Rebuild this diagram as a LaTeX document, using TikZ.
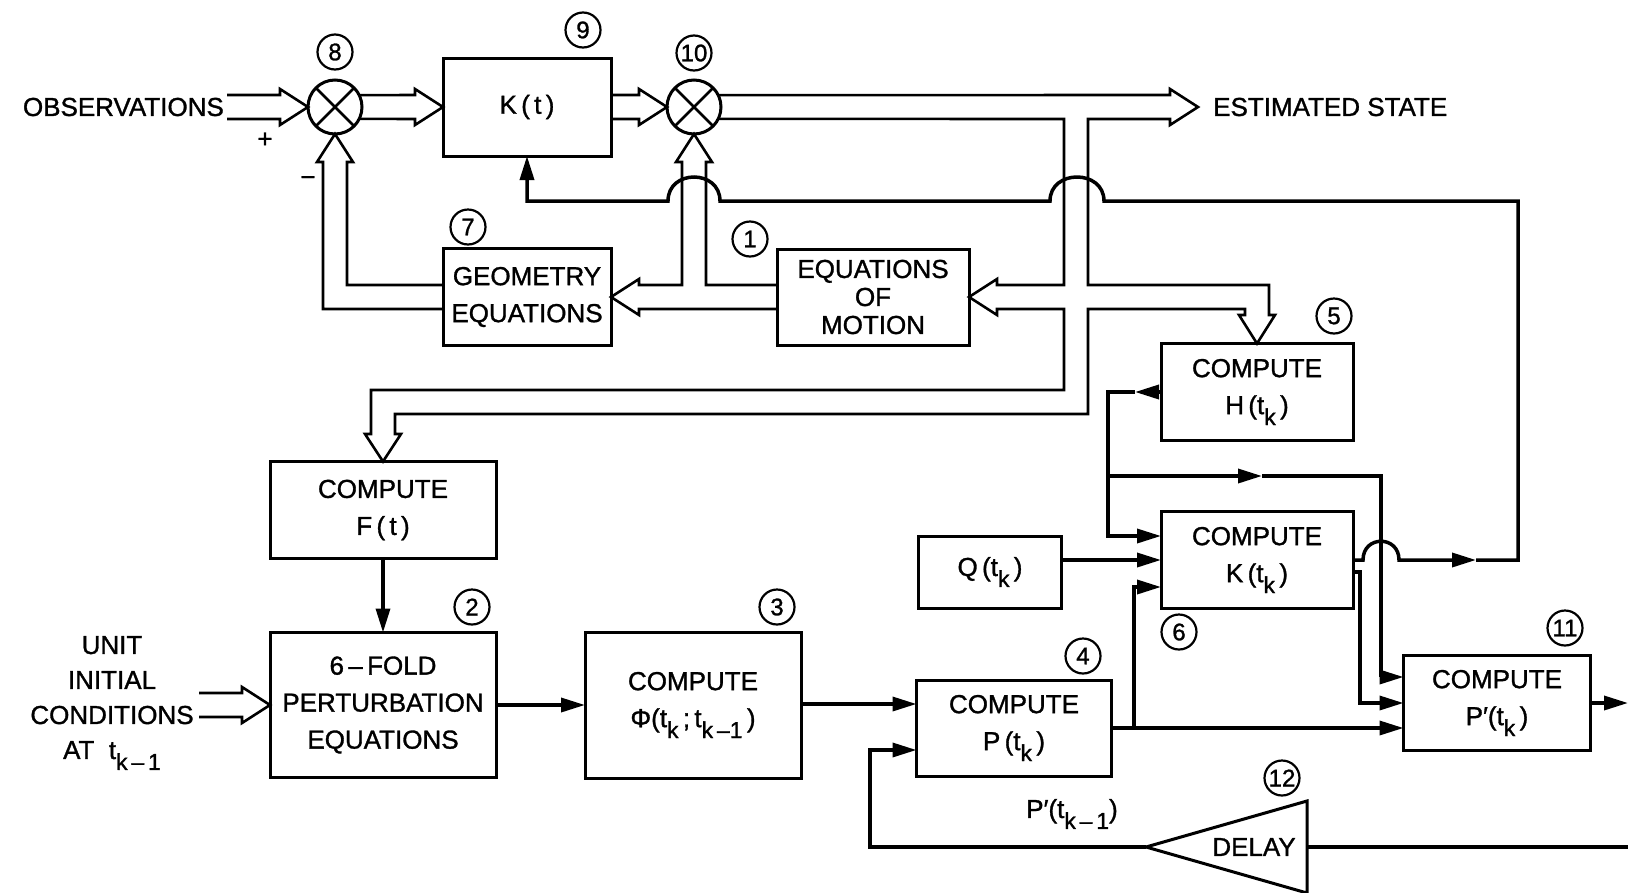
\documentclass[tikz,border=0pt]{standalone}
\usepackage{fontspec}
\setmainfont{Liberation Sans}[UprightFeatures={FakeBold=1.2}]
\usepackage{tikz}
\usetikzlibrary{arrows.meta, calc}

% lowered subscript, as lettered in the drawing
\newcommand{\tsub}[1]{\raisebox{-0.42em}{\fontsize{23}{23}\selectfont #1}}

\begin{document}
\begin{tikzpicture}[
  x=1pt, y=-1pt,
  font=\fontsize{26}{37}\selectfont,
  block/.style={rectangle, draw, line width=3pt, align=center,
    inner sep=0pt, outer sep=0pt},
  sumjunc/.style={circle, draw, line width=3pt, minimum size=54pt,
    inner sep=0pt, outer sep=0pt},
  tag/.style={circle, draw, line width=2.2pt, minimum size=35pt,
    inner sep=0pt, font=\fontsize{24}{24}\selectfont},
  txt/.style={align=center, inner sep=0pt},
  arrow/.style={-{Triangle[length=24pt, width=14pt]}, line width=3.5pt},
  wire/.style={line width=3.5pt},
  pipe/.style={line width=2.6pt, line join=miter}
]
\useasboundingbox (0,0) rectangle (1628,892);

% summing junctions
\node (sumA) [sumjunc] at (335,107) {};
\node (sumB) [sumjunc] at (694,107) {};
\draw[line width=2.5pt] (sumA.45) -- (sumA.225) (sumA.135) -- (sumA.315);
\draw[line width=2.5pt] (sumB.45) -- (sumB.225) (sumB.135) -- (sumB.315);

% blocks
\node (kt)   [block, minimum width=168pt, minimum height=98pt]  at (527,107) {K\,(\,t\,)};
\node (geom) [block, minimum width=168pt, minimum height=97pt]  at (527,297) {GEOMETRY\\EQUATIONS};
\node (eom)  [block, minimum width=192pt, minimum height=96pt,
              font=\fontsize{26}{28}\selectfont]                at (873,297) {EQUATIONS\\OF\\MOTION};
\node (cf)   [block, minimum width=226pt, minimum height=97pt]  at (383,510) {COMPUTE\\F\,(\,t\,)};
\node (pert) [block, minimum width=226pt, minimum height=145pt] at (383,705) {6\,–\,FOLD\\PERTURBATION\\EQUATIONS};
\node (cphi) [block, minimum width=216pt, minimum height=146pt] at (693,705) {COMPUTE\\Φ(t\tsub{k}\,;\,t\tsub{k\,–1}\,)};
\node (cp)   [block, minimum width=195pt, minimum height=96pt]  at (1014,728) {COMPUTE\\P\,(t\tsub{k}\,)};
\node (cq)   [block, minimum width=143pt, minimum height=72pt]  at (990,572) {Q\,(t\tsub{k}\,)};
\node (ch)   [block, minimum width=192pt, minimum height=97pt]  at (1257,392) {COMPUTE\\H\,(t\tsub{k}\,)};
\node (ck)   [block, minimum width=192pt, minimum height=97pt]  at (1257,560) {COMPUTE\\K\,(t\tsub{k}\,)};
\node (cpp)  [block, minimum width=187pt, minimum height=95pt]  at (1497,703) {COMPUTE\\P′(t\tsub{k}\,)};

% delay
\coordinate (dtip) at (1146,847);
\coordinate (dbase) at (1307,847);
\draw[line width=3pt] (dtip) -- (1307,801) -- (1307,893) -- cycle;
\node (delay) [txt] at (1254,847) {DELAY};

% texts
\node (obs)   [txt, anchor=east] at (224,107)  {OBSERVATIONS};
\node (est)   [txt, anchor=west] at (1213,107) {ESTIMATED STATE};
\node (uic)   [txt, font=\fontsize{26}{35}\selectfont] at (112,703)
  {UNIT\\INITIAL\\CONDITIONS\\AT\ \ t\tsub{k\,–\,1}};
\node (pprev) [txt] at (1072,814) {P′(t\tsub{k\,–\,1})};
\node (plus)  [txt] at (265,140) {+};
\node (minus) [txt] at (308,181) {−};

% tags
\node (t8)  [tag] at (335,52)   {8};
\node (t9)  [tag] at (583,30)   {9};
\node (t10) [tag] at (694,53)   {10};
\node (t7)  [tag] at (468,227)  {7};
\node (t1)  [tag] at (750,239)  {1};
\node (t5)  [tag] at (1334,316) {5};
\node (t2)  [tag] at (472,607)  {2};
\node (t3)  [tag] at (777,607)  {3};
\node (t4)  [tag] at (1083,656) {4};
\node (t6)  [tag] at (1179,632) {6};
\node (t11) [tag] at (1565,628) {11};
\node (t12) [tag] at (1282,778) {12};

% hollow (vector) arrows
\coordinate (uicin) at (199,705);
\coordinate (esttip) at (1198,107);
\draw[pipe] ($(obs.east)+(3,-12)$) -- (280,95) -- (280,89) -- (sumA.west)
  -- (280,125) -- (280,119) -- ($(obs.east)+(3,12)$);
\draw[pipe] (sumA.26) -- (415,95) -- (415,89) -- (kt.west)
  -- (415,125) -- (415,119) -- (sumA.-26);
\draw[pipe] ($(kt.east)+(0,-12)$) -- (639,95) -- (639,89) -- (sumB.west)
  -- (639,125) -- (639,119) -- ($(kt.east)+(0,12)$);
\draw[pipe] ($(uicin)+(0,-12)$) -- (242,693) -- (242,687) -- (pert.west)
  -- (242,723) -- (242,717) -- ($(uicin)+(0,12)$);
\draw[pipe] ($(geom.west)+(0,-12)$) -- (347,285) -- (347,162) -- (353,162)
  -- (sumA.south) -- (317,162) -- (323,162) -- (323,309) -- ($(geom.west)+(0,12)$);
\draw[pipe] ($(eom.west)+(0,-12)$) -- (706,285) -- (706,162) -- (712,162)
  -- (sumB.south) -- (676,162) -- (682,162) -- (682,285) -- (639,285)
  -- (639,279) -- (geom.east) -- (639,315) -- (639,309) -- ($(eom.west)+(0,12)$);
\draw[pipe] (sumB.-26) -- (1064,119) -- (1064,285) -- (997,285) -- (997,279)
  -- (eom.east) -- (997,315) -- (997,309) -- (1064,309) -- (1064,390)
  -- (371,390) -- (371,434) -- (365,434) -- (cf.north) -- (401,434)
  -- (395,434) -- (395,414) -- (1088,414) -- (1088,309) -- (1245,309)
  -- (1245,315) -- (1239,315) -- (ch.north) -- (1275,315) -- (1269,315)
  -- (1269,285) -- (1088,285) -- (1088,119) -- (1170,119) -- (1170,125)
  -- (esttip) -- (1170,89) -- (1170,95) -- (sumB.26);

% gain feedback with crossovers
\draw[arrow] (ck.east) -- (1363,560)
  .. controls (1363,535) and (1399,535) .. (1399,560) -- (1476,560);
\draw[arrow] (1476,560) -- (1518,560) -- (1518,201) -- (1104,201)
  .. controls (1104,169) and (1050,169) .. (1050,201) -- (720,201)
  .. controls (720,169) and (668,169) .. (668,201) -- (kt.south |- 0,201)
  -- (kt.south);

% H bus
\draw[arrow] (ch.west) -- ($(ch.west)+(-26,0)$);
\draw[arrow] ($(ch.west)+(-26,0)$) -- (1108,392) -- (1108,536) -- (ck.west |- 0,536);
\draw[arrow] (1108,476) -- (1262,476);
\draw[arrow] (1262,476) -- (1381,476) -- (1381,677) -- (cpp.west |- 0,677);

\draw[arrow] (cq.east |- ck.west) -- (ck.west);
\draw[arrow] (cp.east) -- (cpp.west |- cp.east);
\draw[arrow] (1134,728) -- (1134,587) -- (ck.west |- 0,587);
\draw[arrow] (ck.east |- 0,572) -- (1360,572) -- (1360,703) -- (cpp.west);

\coordinate (outR) at (1628,703);
\draw[arrow] (cpp.east) -- (outR);

\coordinate (inR) at (1628,847);
\draw[wire] (inR) -- (dbase);
\draw[arrow] (dtip) -- (870,847) -- (870,750) -- (cp.west |- 0,750);

\draw[arrow] (cphi.east |- 0,704) -- (cp.west |- 0,704);
\draw[arrow] (pert.east) -- (cphi.west);
\draw[arrow] (cf.south) -- (pert.north);

\end{tikzpicture}
\end{document}
